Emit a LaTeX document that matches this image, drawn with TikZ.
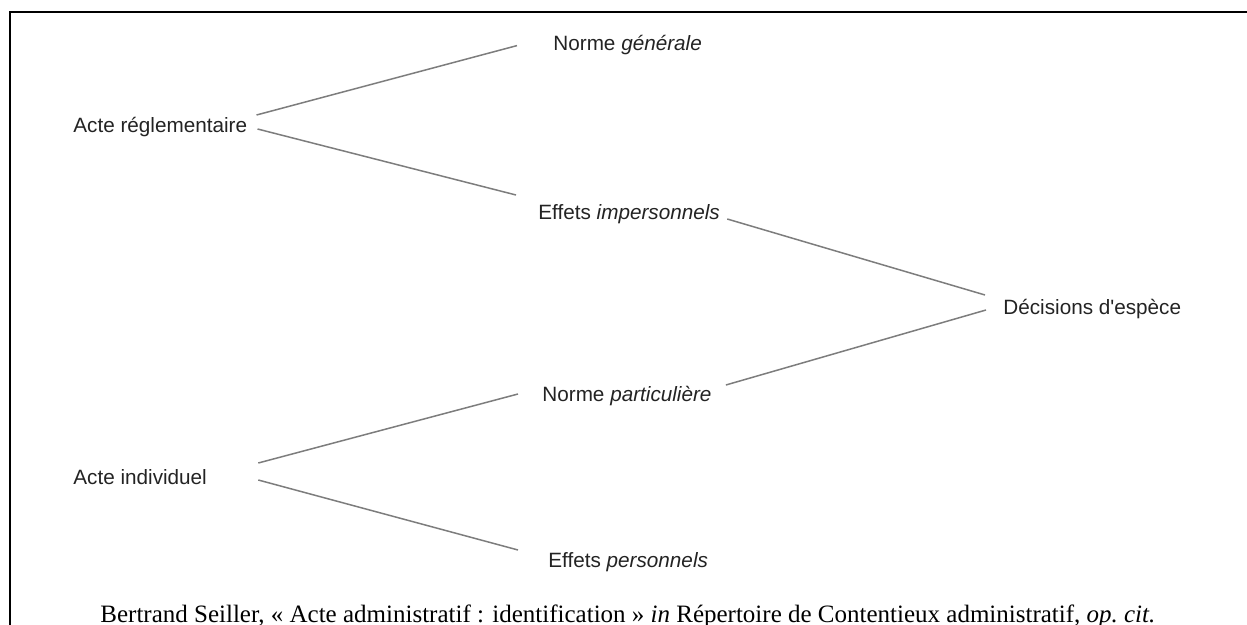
\documentclass[tikz,border=0pt]{standalone}
\usepackage{fontspec}
\setmainfont{Liberation Serif}
\setsansfont{Liberation Sans}
\usepackage{tikz}
\definecolor{linegray}{RGB}{125,125,125}
\definecolor{textgray}{RGB}{35,35,35}
\tikzset{
    term/.style={font=\sffamily\fontsize{10.35}{12}\selectfont, text=textgray, inner sep=0pt, anchor=base west, text height=7.6pt, text depth=2.2pt},
    source/.style={font=\fontsize{12.5}{14}\selectfont, inner sep=0pt, anchor=base west},
    link/.style={draw=linegray, line width=0.75pt},
    frame/.style={draw=black, line width=1.3pt}
}

\begin{document}
\begin{tikzpicture}[x=0.5pt, y=-0.5pt]
\useasboundingbox (0,0) rectangle (1247,625);
\draw[frame] (1247,12) -- (10,12) -- (10,625);

% left column
\node[term] (regl) at (73,133) {Acte réglementaire};
\node[term] (ind) at (73,484) {Acte individuel};
% middle column
\node[term] (gen) at (553,51) {Norme \textit{générale}};
\node[term] (imp) at (538,220) {Effets \textit{impersonnels}};
\node[term] (part) at (542,401) {Norme \textit{particulière}};
\node[term] (pers) at (548,567) {Effets \textit{personnels}};
% right column
\node[term] (dec) at (1003,315) {Décisions d\textquotesingle espèce};

\draw[link] ([shift={(9,-12.6)}]regl.east) -- ([shift={(-36,0)}]gen.west);
\draw[link] ([shift={(10,1.4)}]regl.east) -- ([shift={(-22,-19.6)}]imp.west);
\draw[link] ([shift={(7,4.4)}]imp.east) -- ([shift={(-18,-14.6)}]dec.west);
\draw[link] ([shift={(14,-10.6)}]part.east) -- ([shift={(-17,0.4)}]dec.west);
\draw[link] ([shift={(51,-15.6)}]ind.east) -- ([shift={(-24,-1.6)}]part.west);
\draw[link] ([shift={(51,1.4)}]ind.east) -- ([shift={(-30,-11.6)}]pers.west);

\node[source] (ref) at (100,622) {Bertrand Seiller, « Acte administratif : identification » \textit{in} Répertoire de Contentieux administratif, \textit{op.\ cit.}};
\end{tikzpicture}
\end{document}
